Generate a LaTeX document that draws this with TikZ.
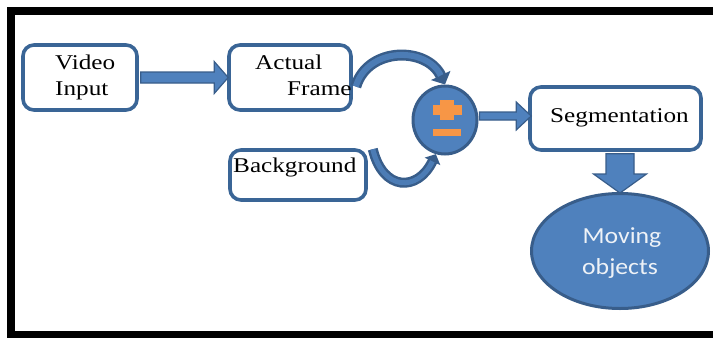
\documentclass[tikz,border=0pt]{standalone}
\usepackage{fontspec}
\usetikzlibrary{calc,shapes.geometric,arrows.meta}
\newfontfamily\boxfont[FakeStretch=1.2]{Liberation Serif}
\newfontfamily\ovalfont[FakeStretch=1.12]{Carlito}
\definecolor{edgeblue}{HTML}{3A6596}
\definecolor{fillblue}{HTML}{4F81BD}
\definecolor{darkrim}{HTML}{385D8A}
\definecolor{signorange}{HTML}{F79646}
\definecolor{ovaltext}{HTML}{EEF2F7}
\begin{document}
\begin{tikzpicture}[x=1pt,y=-1pt,
  stepbox/.style={draw=edgeblue, line width=3.6pt, rounded corners=11pt, fill=white, inner sep=0pt},
  boxtext/.style={anchor=base west, inner sep=0pt, text=black, font=\boxfont\fontsize{21}{25}\selectfont},
  ovaltextstyle/.style={anchor=base, inner sep=0pt, text=ovaltext, font=\ovalfont\fontsize{23}{28}\selectfont},
  oval/.style={ellipse, fill=fillblue, draw=darkrim, line width=3pt, inner sep=0pt},
  blockarr/.style={fill=fillblue, draw=darkrim, line width=1.2pt, line join=miter},
  curvedark/.style={draw=darkrim, line width=11pt},
  curvelight/.style={draw=fillblue!85!darkrim, line width=6pt},
]
\useasboundingbox (0,0) rectangle (713,338);
% page and black frame
\fill[white] (0,0) rectangle (713,338);
\fill[black] (7,7) rectangle (713,338);
\fill[white] (15,15) rectangle (713,331);

% block shapes
\node[stepbox, minimum width=114pt, minimum height=65pt] (vin) at (80,77.5) {};
\node[stepbox, minimum width=122pt, minimum height=65pt] (af) at (290,77.5) {};
\node[stepbox, minimum width=136pt, minimum height=50pt] (bg) at (298,175) {};
\node[stepbox, minimum width=171pt, minimum height=63pt] (seg) at (615.5,118.5) {};
\node[oval, minimum width=64pt, minimum height=68pt] (sub) at (445,120) {};
\node[oval, minimum width=177pt, minimum height=115pt] (mo) at (620,251) {};

% straight block arrows
\draw[blockarr] let \p1=(vin.east), \p2=(af.west) in
  (\x1+2pt,\y1+5.5pt) -- (\x2-13pt,\y1+5.5pt) -- (\x2-13pt,\y1+16pt) -- (\x2+1pt,\y1)
  -- (\x2-13pt,\y1-16pt) -- (\x2-13pt,\y1-5.5pt) -- (\x1+2pt,\y1-5.5pt) -- cycle;
\draw[blockarr] let \p1=(sub.east), \p2=(seg.west) in
  (\x1+1pt,\y1+8pt) -- (\x2-12pt,\y1+8pt) -- (\x2-12pt,\y1+18pt) -- (\x2+3pt,\y1+4pt)
  -- (\x2-12pt,\y1-10pt) -- (\x2-12pt,\y1) -- (\x1+1pt,\y1) -- cycle;
\draw[blockarr] let \p1=(seg.south), \p2=(mo.north) in
  (\x2-14pt,\y1-2pt) -- (\x2-14pt,\y2+18pt) -- (\x2-26.5pt,\y2+18pt) -- (\x2,\y2-1pt)
  -- (\x2+26.5pt,\y2+18pt) -- (\x2+14pt,\y2+18pt) -- (\x2+14pt,\y1-2pt) -- cycle;

% labels
\node[boxtext] (t1) at (55,69) {Video};
\node[boxtext] (t2) at (55,95) {Input};
\node[boxtext] (t3) at (255,69) {Actual};
\node[boxtext] (t4) at (287,95) {Frame};
\node[boxtext] (t5) at (233,172) {Background};
\node[boxtext] (t6) at (550,122) {Segmentation};
\node[ovaltextstyle] (t7) at (622,243) {Moving};
\node[ovaltextstyle] (t8) at (620,274) {objects};

% curved arrows into the difference node
\coordinate (c1s) at ($(af.east)+(3,9)$);
\coordinate (c1a) at ($(c1s)+(12,-40)$);
\coordinate (c1b) at ($(sub.north)+(-18,-38)$);
\draw[curvedark, -{Triangle[width=21pt,length=10pt]}] (c1s) .. controls (c1a) and (c1b) .. (sub.north);
\draw[curvelight, shorten >=10pt] (c1s) .. controls (c1a) and (c1b) .. (sub.north);

\coordinate (c2s) at ($(bg.north east)+(5,1)$);
\coordinate (c2a) at ($(c2s)+(10,42)$);
\coordinate (c2b) at ($(sub.255)+(-18,38)$);
\draw[curvedark, line width=10pt, -{Triangle[width=17pt,length=8pt]}] (c2s) .. controls (c2a) and (c2b) .. (sub.255);
\draw[curvelight, line width=5pt, shorten >=8pt] (c2s) .. controls (c2a) and (c2b) .. (sub.255);

% plus / minus sign
\begin{scope}[shift={(sub.center)}]
  \fill[signorange] (-12,-15) rectangle (17,-5);
  \fill[signorange] (-5,-20) rectangle (9,0);
  \fill[signorange] (-12,9) rectangle (16,16);
\end{scope}
\end{tikzpicture}
\end{document}
